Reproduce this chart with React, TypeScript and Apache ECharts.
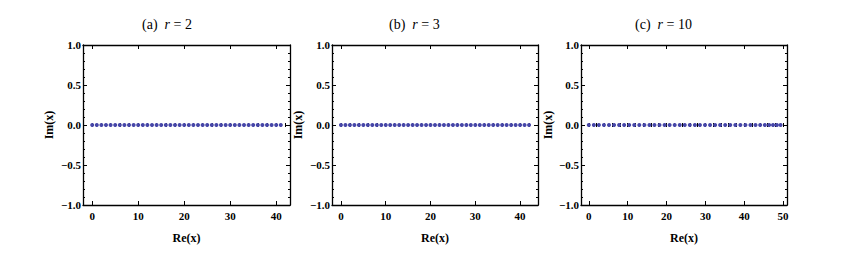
import React, { useEffect, useRef } from "react";
import * as echarts from "echarts";

// Panel titles
const panelLetters = ["(a)", "(b)", "(c)"];
const rValues = ["2", "3", "10"];

// Real parts of the plotted points (all imaginary parts are 0)
const reA = [0, 1, 2, 3, 4, 5, 6, 7, 8, 9, 10, 11, 12, 13, 14, 15, 16, 17, 18, 19, 20, 21, 22, 23, 24, 25, 26, 27, 28, 29, 30, 31, 32, 33, 34, 35, 36, 37, 38, 39, 40, 41];
const reB = [0, 1, 2, 3, 4, 5, 6, 7, 8, 9, 10, 11, 12, 13, 14, 15, 16, 17, 18, 19, 20, 21, 22, 23, 24, 25, 26, 27, 28, 29, 30, 31, 32, 33, 34, 35, 36, 37, 38, 39, 40, 41, 42];
const reC = [0, 1.3, 2.6, 3.9, 5.2, 6.5, 7.8, 9.1, 10.4, 11.7, 13.0, 14.3, 15.6, 16.9, 18.2, 19.5, 20.8, 22.1, 23.4, 24.7, 26.0, 27.3, 28.6, 29.9, 31.2, 32.5, 33.8, 35.1, 36.4, 37.7, 39.0, 40.3, 41.6, 42.9, 44.1, 45.3, 46.4, 47.4, 48.4, 49.35];
const imA = reA.map(() => 0);
const imB = reB.map(() => 0);
const imC = reC.map(() => 0);

// Axis ranges and tick labels
const xMins = [-2, -2, -2];
const xMaxs = [43, 44, 51];
const xMajorTicksA = [0, 10, 20, 30, 40];
const xMajorTicksB = [0, 10, 20, 30, 40];
const xMajorTicksC = [0, 10, 20, 30, 40, 50];
const yTicks = [-1, -0.5, 0, 0.5, 1];

const FONT = "'Liberation Serif', 'DejaVu Serif', serif";
const DOT = "#4646a8";

export default function App() {
  const ref = useRef<HTMLDivElement>(null);
  useEffect(() => {
    if (!ref.current) return;
    const chart = echarts.init(ref.current, undefined, { renderer: "svg" });
    const grids = [
      { left: 83, top: 45, width: 207, height: 160 },
      { left: 332, top: 45, width: 206, height: 160 },
      { left: 581, top: 45, width: 206, height: 160 },
    ];
    const majors = [xMajorTicksA, xMajorTicksB, xMajorTicksC];
    const xs = [reA, reB, reC];
    const ys = [imA, imB, imC];
    const yNameGaps = [28, 28, 27];
    const titleLefts = [142, 389, 635];

    const xAxis: any[] = [];
    const yAxis: any[] = [];
    const series: any[] = [];
    const graphic: any[] = [];
    grids.forEach((g, i) => {
      const minors: number[] = [];
      for (let v = 0; v <= xMaxs[i]; v += 2) minors.push(v);
      const base = {
        type: "value",
        gridIndex: i,
        min: xMins[i],
        max: xMaxs[i],
        splitLine: { show: false },
      };
      const mainIdx = xAxis.length;
      xAxis.push({
        ...base,
        position: "bottom",
        name: "Re(x)",
        nameLocation: "middle",
        nameGap: 27,
        nameTextStyle: { fontFamily: FONT, fontWeight: "bold", fontSize: 12, color: "#000" },
        axisLine: { show: true, onZero: false, lineStyle: { color: "#000", width: 1.3 } },
        axisTick: { show: true, inside: true, length: 4, customValues: majors[i], lineStyle: { color: "#000", width: 1 } },
        axisLabel: { show: true, customValues: majors[i], fontFamily: FONT, fontWeight: "bold", fontSize: 11, color: "#000", margin: 5 },
      });
      xAxis.push({
        ...base,
        position: "bottom",
        axisLine: { show: false },
        axisTick: { show: true, inside: true, length: 2, customValues: minors, lineStyle: { color: "#000", width: 1 } },
        axisLabel: { show: false },
      });
      xAxis.push({
        ...base,
        position: "top",
        axisLine: { show: true, onZero: false, lineStyle: { color: "#000", width: 1.3 } },
        axisTick: { show: true, inside: true, length: 4, customValues: majors[i], lineStyle: { color: "#000", width: 1 } },
        axisLabel: { show: false },
      });
      xAxis.push({
        ...base,
        position: "top",
        axisLine: { show: false },
        axisTick: { show: true, inside: true, length: 2, customValues: minors, lineStyle: { color: "#000", width: 1 } },
        axisLabel: { show: false },
      });
      const yIdx = yAxis.length;
      const ybase = {
        type: "value",
        gridIndex: i,
        min: -1,
        max: 1,
        interval: 0.5,
        splitLine: { show: false },
        axisLine: { show: true, onZero: false, lineStyle: { color: "#000", width: 1.3 } },
        axisTick: { show: true, inside: true, length: 4, lineStyle: { color: "#000", width: 1 } },
        minorTick: { show: true, splitNumber: 5, length: 2, lineStyle: { color: "#000", width: 1 } },
      };
      yAxis.push({
        ...ybase,
        position: "left",
        name: "Im(x)",
        nameLocation: "middle",
        nameGap: yNameGaps[i],
        nameRotate: 90,
        nameTextStyle: { fontFamily: FONT, fontWeight: "bold", fontSize: 12, color: "#000" },
        axisLabel: {
          show: true,
          customValues: yTicks,
          fontFamily: FONT,
          fontWeight: "bold",
          fontSize: 11,
          color: "#000",
          margin: 2,
          formatter: (v: number) => (v < 0 ? "\u2212" : "") + Math.abs(v).toFixed(1),
        },
      });
      yAxis.push({
        ...ybase,
        position: "right",
        axisLabel: { show: false },
      });
      series.push({
        type: "scatter",
        xAxisIndex: mainIdx,
        yAxisIndex: yIdx,
        symbol: "circle",
        symbolSize: 4,
        itemStyle: { color: DOT, opacity: 1, borderWidth: 0 },
        data: xs[i].map((x, k) => [x, ys[i][k]]),
      });
      graphic.push({
        type: "text",
        left: titleLefts[i],
        top: 17,
        style: {
          text: panelLetters[i] + "  {r|r} = " + rValues[i],
          font: "14px " + FONT,
          fill: "#000",
          rich: { r: { fontStyle: "italic", fontFamily: FONT, fontSize: 14, fill: "#000" } },
        },
      });
    });

    chart.setOption({
      animation: false,
      backgroundColor: "#fff",
      grid: grids,
      xAxis,
      yAxis,
      series,
      graphic,
    });
    return () => chart.dispose();
  }, []);
  return (
    <div
      ref={ref}
      style={{ position: "absolute", left: 0, top: 0, width: 858, height: 260, background: "#fff" }}
    />
  );
}
